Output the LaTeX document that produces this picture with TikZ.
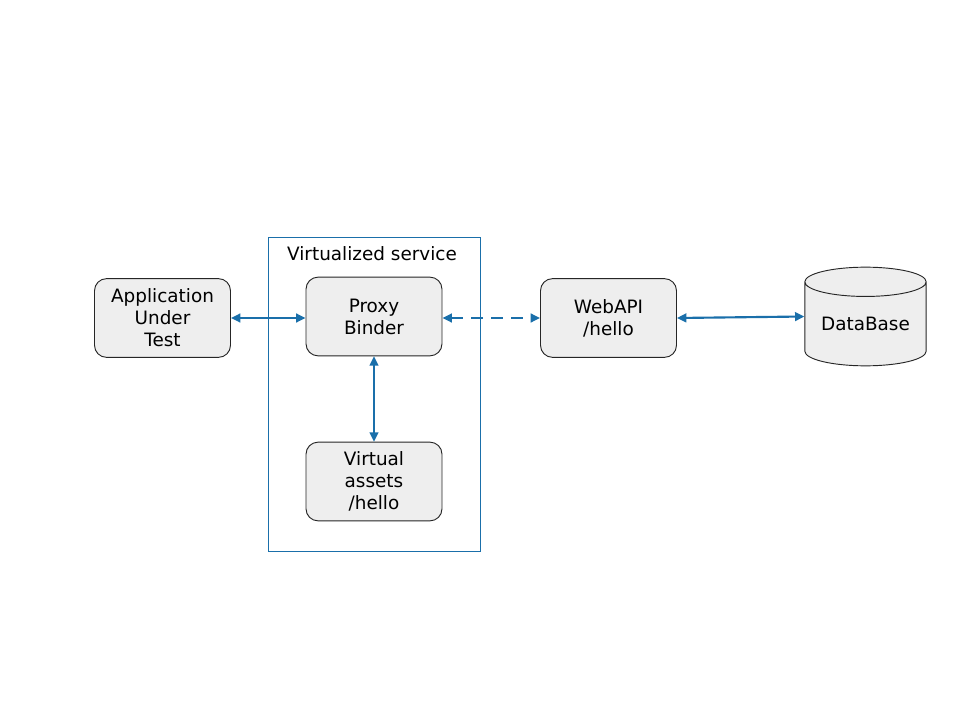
\documentclass[tikz,border=0pt]{standalone}
\usepackage{fontspec}
\setmainfont{DejaVu Sans}
\usetikzlibrary{shapes.geometric,arrows.meta}

\definecolor{linkblue}{HTML}{1A6FAA}
\definecolor{boxgray}{HTML}{EEEEEE}

\tikzset{
	block/.style={draw=black!85, line width=0.7pt, fill=boxgray, rounded corners=9pt, minimum width=102pt, minimum height=59pt, align=center, font=\fontsize{13.8}{16.5}\selectfont, inner sep=0pt},
	store/.style={draw=black!85, line width=0.7pt, fill=boxgray, cylinder, shape border rotate=90, aspect=0.33, minimum width=91pt, minimum height=74pt, font=\fontsize{13.8}{16.5}\selectfont, inner sep=0pt, anchor=shape center},
	link/.style={draw=linkblue, line width=1.6pt, {Triangle[length=7pt,width=6.5pt]}-{Triangle[length=7pt,width=6.5pt]}},
}

\begin{document}
\begin{tikzpicture}[x=0.75pt, y=-0.75pt]
		\useasboundingbox (0, 0) rectangle (960, 720);
		% container of the virtualized service
		\node[draw=linkblue, line width=0.6pt, minimum width=159pt, minimum height=236pt] (service) at (374, 394.5) {};
		\node[font=\fontsize{13.8}{16.5}\selectfont] (servicelabel) at (372, 254) {Virtualized service};
		% boxes
		\node[block] (app) at (162.5, 318) {Application\\Under\\Test};
		\node[block] (proxy) at (374, 316.5) {Proxy\\Binder};
		\node[block] (assets) at (374, 481.5) {Virtual\\assets\\/hello};
		\node[block] (webapi) at (608.5, 318) {WebAPI\\/hello};
		\node[store] (db) at (865.5, 316.5) {DataBase};
		% connectors
		\draw[link] (app.east) -- (app.east -| proxy.west);
		\draw[link] (proxy.south) -- (assets.north);
		\draw[link, dash pattern=on 9pt off 6pt] (proxy.east |- webapi.east) -- (webapi.east -| webapi.west);
		\draw[link] (webapi.east) -- (db.shape center -| db.west);
	\end{tikzpicture}
\end{document}
